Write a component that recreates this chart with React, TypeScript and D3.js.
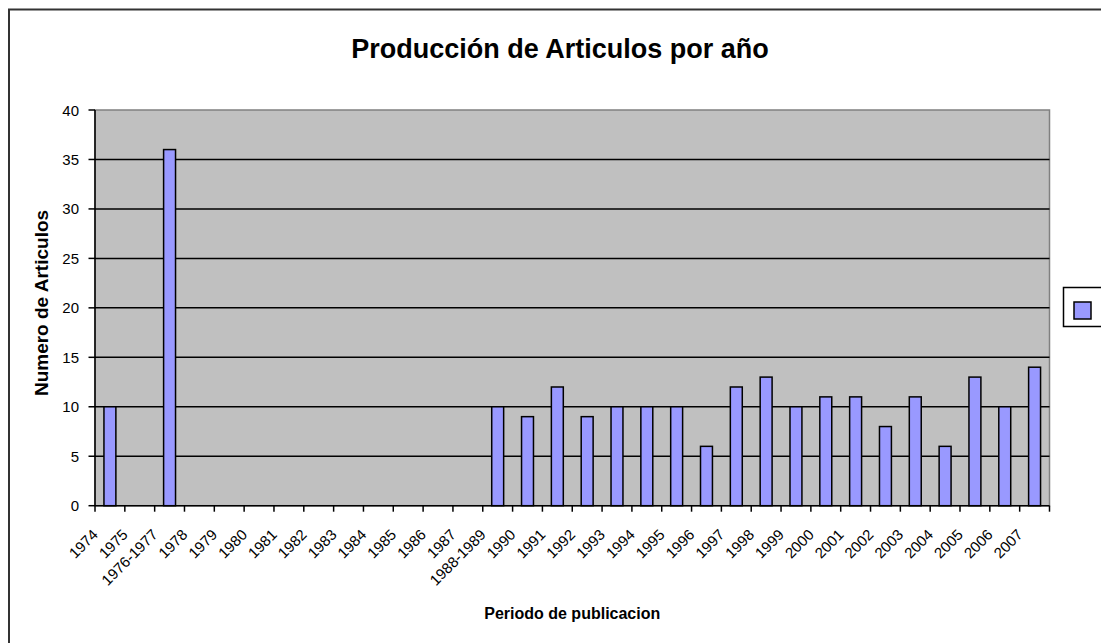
import React, { useEffect, useRef } from 'react';
import * as d3 from 'd3';

const categories = [
  '1974', '1975', '1976-1977', '1978', '1979', '1980', '1981', '1982', '1983', '1984',
  '1985', '1986', '1987', '1988-1989', '1990', '1991', '1992', '1993', '1994', '1995',
  '1996', '1997', '1998', '1999', '2000', '2001', '2002', '2003', '2004', '2005', '2006', '2007',
];
const articulos = [
  10, 0, 36, 0, 0, 0, 0, 0, 0, 0,
  0, 0, 0, 10, 9, 12, 9, 10, 10, 10,
  6, 12, 13, 10, 11, 11, 8, 11, 6, 13, 10, 14,
];
const yTicks = [0, 5, 10, 15, 20, 25, 30, 35, 40];

const FONT = "'Liberation Sans', Arial, sans-serif";

export default function App() {
  const svgRef = useRef<SVGSVGElement>(null);
  const width = 1101;
  const height = 643;

  useEffect(() => {
    const svg = d3.select(svgRef.current);
    svg.selectAll('*').remove();

    const left = 95, right = 1049.5, top = 110, bottom = 505.7;

    // chart frame (runs past the window on right and bottom)
    svg.append('rect')
      .attr('x', 9).attr('y', 9.5)
      .attr('width', 1120).attr('height', 660)
      .attr('fill', 'white').attr('stroke', '#333').attr('stroke-width', 2);

    svg.append('text')
      .attr('x', 560).attr('y', 58)
      .attr('text-anchor', 'middle')
      .attr('font-family', FONT).attr('font-weight', 'bold').attr('font-size', 27)
      .text('Producción de Articulos por año');

    const x = d3.scaleBand<string>().domain(categories).range([left, right]).padding(0);
    const y = d3.scaleLinear().domain([0, 40]).range([bottom, top]);

    svg.append('rect')
      .attr('x', left).attr('y', top)
      .attr('width', right - left).attr('height', bottom - top)
      .attr('fill', '#C0C0C0').attr('stroke', '#808080').attr('stroke-width', 1.5);

    svg.append('g')
      .selectAll('line')
      .data(yTicks.filter(d => d > 0 && d < 40))
      .enter()
      .append('line')
      .attr('x1', left).attr('x2', right)
      .attr('y1', d => y(d)).attr('y2', d => y(d))
      .attr('stroke', '#000').attr('stroke-width', 1.5);

    const bw = x.step() / 2.5;
    svg.append('g')
      .selectAll('rect')
      .data(articulos.map((v, i) => ({ cat: categories[i], v })).filter(d => d.v > 0))
      .enter()
      .append('rect')
      .attr('x', d => x(d.cat)! + (x.step() - bw) / 2)
      .attr('y', d => y(d.v))
      .attr('width', bw)
      .attr('height', d => bottom - y(d.v))
      .attr('fill', '#9999FF')
      .attr('stroke', '#000').attr('stroke-width', 1.5);

    // y axis
    svg.append('line')
      .attr('x1', left).attr('x2', left).attr('y1', top).attr('y2', bottom)
      .attr('stroke', '#000').attr('stroke-width', 1.5);
    const yg = svg.append('g');
    yTicks.forEach(t => {
      yg.append('line')
        .attr('x1', left - 6.5).attr('x2', left).attr('y1', y(t)).attr('y2', y(t))
        .attr('stroke', '#000').attr('stroke-width', 1.5);
      yg.append('text')
        .attr('x', 79).attr('y', y(t) + 5.5)
        .attr('text-anchor', 'end')
        .attr('font-family', FONT).attr('font-size', 15)
        .text(t);
    });

    // x axis
    svg.append('line')
      .attr('x1', left).attr('x2', right).attr('y1', bottom).attr('y2', bottom)
      .attr('stroke', '#000').attr('stroke-width', 1.5);
    const xg = svg.append('g');
    d3.range(categories.length + 1).forEach(i => {
      const tx = left + i * x.step();
      xg.append('line')
        .attr('x1', tx).attr('x2', tx).attr('y1', bottom).attr('y2', bottom + 6)
        .attr('stroke', '#000').attr('stroke-width', 1.5);
    });
    categories.forEach(c => {
      const cx = x(c)! + x.step() / 2 - 11;
      const cy = bottom + 30;
      xg.append('text')
        .attr('transform', `translate(${cx},${cy}) rotate(-45)`)
        .attr('text-anchor', 'end')
        .attr('font-family', FONT).attr('font-size', 15)
        .text(c);
    });

    svg.append('text')
      .attr('transform', `translate(48,303) rotate(-90)`)
      .attr('text-anchor', 'middle')
      .attr('font-family', FONT).attr('font-weight', 'bold').attr('font-size', 19)
      .text('Numero de Articulos');

    svg.append('text')
      .attr('x', (left + right) / 2).attr('y', 619)
      .attr('text-anchor', 'middle')
      .attr('font-family', FONT).attr('font-weight', 'bold').attr('font-size', 16)
      .text('Periodo de publicacion');

    // legend (series has no name)
    svg.append('rect')
      .attr('x', 1063.5).attr('y', 287.5).attr('width', 60).attr('height', 39)
      .attr('fill', 'white').attr('stroke', '#000').attr('stroke-width', 1.5);
    svg.append('rect')
      .attr('x', 1074).attr('y', 302).attr('width', 17).attr('height', 17)
      .attr('fill', '#9999FF').attr('stroke', '#000').attr('stroke-width', 1.5);
  }, []);

  return (
    <svg
      ref={svgRef}
      width={width}
      height={height}
      style={{ position: 'absolute', left: 0, top: 0, display: 'block', background: 'white' }}
    />
  );
}
